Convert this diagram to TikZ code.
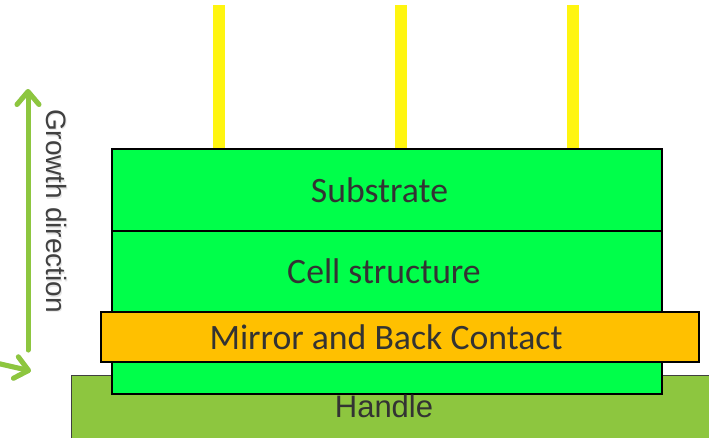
\documentclass[tikz,border=0pt]{standalone}
\usepackage{fontspec}
\setmainfont{Carlito}
\newfontfamily\arialfont{Liberation Sans}
\usetikzlibrary{arrows.meta}
\definecolor{layergreen}{HTML}{00FF4A}
\definecolor{mirrorgold}{HTML}{FFC000}
\definecolor{handlegreen}{HTML}{8DC63F}
\definecolor{raygold}{HTML}{FFF510}
\definecolor{inkgray}{HTML}{333333}
\tikzset{
  layer/.style={draw=black, line width=2pt, fill=layergreen, inner sep=0pt,
    anchor=north west, text=inkgray, font=\fontsize{35.7}{42}\selectfont},
  mirrorbox/.style={layer, fill=mirrorgold},
  handlebox/.style={draw=black!75, line width=1.2pt, fill=handlegreen, inner sep=0pt,
    anchor=north west},
  ray/.style={fill=raygold, draw=none, inner sep=0pt, anchor=north,
    minimum width=12pt, minimum height=143pt},
  growarrow/.style={draw=handlegreen, line width=5pt, line cap=round,
    -{Straight Barb[length=13pt, width=22pt, line cap=round, line join=round]}},
  arrowshadow/.style={growarrow, draw=black, opacity=0.12},
  plainlabel/.style={text=inkgray, inner sep=0pt},
  growfont/.style={font=\arialfont\fontsize{28}{32}\selectfont}
}
\begin{document}
\begin{tikzpicture}[x=1pt, y=-1pt]
  \useasboundingbox (0,0) rectangle (709,437);

  % incoming light rays
  \node[ray] (r1) at (219,5) {};
  \node[ray] (r2) at (401,5) {};
  \node[ray] (r3) at (573,5) {};

  % handle wafer at the bottom
  \node[handlebox, minimum width=645pt, minimum height=68pt] (handle) at (71,375) {};

  % lower part of the cell stack, visible below the mirror
  \node[layer, minimum width=550pt, minimum height=40pt] (lower) at (111,353) {};

  % epitaxial stack (labels sit slightly left of centre)
  \node[layer, minimum width=550pt, minimum height=82pt] (sub) at (111,148) {\hspace*{-15pt}Substrate};
  \node[layer, minimum width=550pt, minimum height=81pt] (cell) at (111,230) {\hspace*{-6pt}Cell structure};
  \node[mirrorbox, minimum width=598pt, minimum height=50pt] (mirror) at (100,311) {\hspace*{-28pt}Mirror and Back Contact};

  \node[plainlabel, font=\arialfont\fontsize{31}{36}\selectfont] (hlabel) at (384,406) {Handle};

  % growth direction indicator
  \coordinate (gstart) at (28,350);
  \coordinate (gend) at (28,89);
  \coordinate (bstart) at (-30,357);
  \coordinate (bend) at (31,371);
  \begin{scope}[shift={(2.5,2.5)}]
    \draw[arrowshadow] (gstart) -- (gend);
    \draw[arrowshadow] (bstart) -- (bend);
  \end{scope}
  \draw[growarrow] (gstart) -- (gend);
  \draw[growarrow] (bstart) -- (bend);

  \node[plainlabel, text=black!10, rotate=-90, growfont] at (58,212.5) {Growth direction};
  \node[plainlabel, text=black!75, rotate=-90, growfont] (glabel) at (56.5,211) {Growth direction};
\end{tikzpicture}
\end{document}
